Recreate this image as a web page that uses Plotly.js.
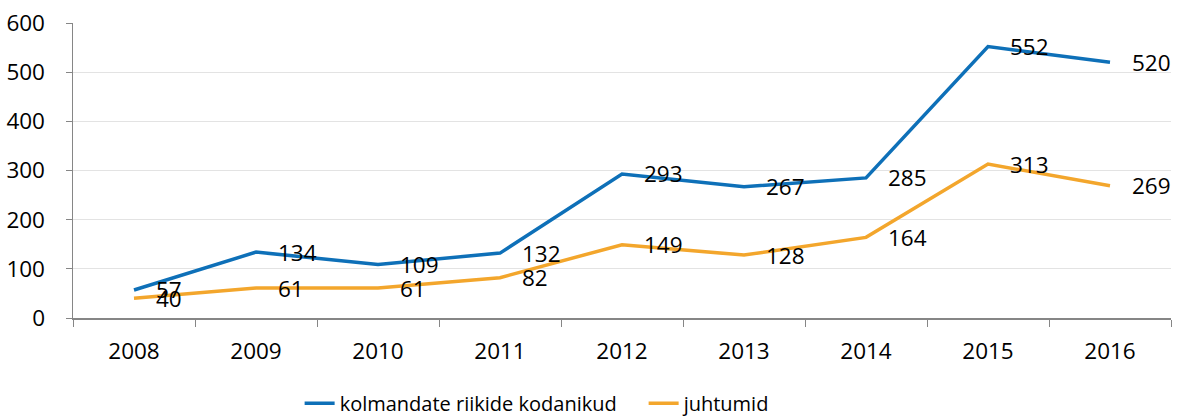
<!DOCTYPE html>
<html><head><meta charset="utf-8">
<script src="https://cdn.plot.ly/plotly-3.0.1.min.js"></script>
<style>html,body{margin:0;padding:0;background:#fff;}#chart{width:1181px;height:418px;}</style>
</head><body><div id="chart"></div>
<script>
const years = ["2008","2009","2010","2011","2012","2013","2014","2015","2016"];
const citizens = [57,134,109,132,293,267,285,552,520];
const cases = [40,61,61,82,149,128,164,313,269];
const seriesNames = ["kolmandate riikide kodanikud","juhtumid"];
const yTicks = [0,100,200,300,400,500,600];

const FONT = "Open Sans";
const blue = "#0E70B8", orange = "#F3A62C";

const traces = [
  {x: years, y: citizens, name: seriesNames[0], mode: "lines", line: {color: blue, width: 3.5}},
  {x: years, y: cases, name: seriesNames[1], mode: "lines", line: {color: orange, width: 3.5}}
];

const ann = [];
[citizens, cases].forEach(arr => arr.forEach((v, i) => {
  ann.push({x: i, y: v, text: String(v), showarrow: false, xanchor: "left", yanchor: "middle",
    xshift: 20, font: {family: FONT, size: 22.5, color: "#000"}});
}));

const layout = {
  width: 1181, height: 418,
  margin: {l: 73, r: 10, t: 23, b: 100, autoexpand: false},
  paper_bgcolor: "#fff", plot_bgcolor: "#fff",
  font: {family: FONT, size: 22.5, color: "#000"},
  showlegend: true,
  legend: {orientation: "h", x: 0.2064, xanchor: "left", yref: "container", y: 0.035, yanchor: "middle",
    font: {family: FONT, size: 20, color: "#000"}, tracegroupgap: 0, entrywidth: 299},
  xaxis: {type: "category", range: [-0.5, 8.5], tickson: "boundaries", ticks: "outside", ticklen: 7,
    tickcolor: "#868686", showline: true, linecolor: "#868686", linewidth: 1.5, showgrid: false,
    ticklabelstandoff: 12, fixedrange: true, automargin: false},
  yaxis: {range: [0, 600], tickvals: yTicks, ticks: "outside", ticklen: 6, tickcolor: "#868686",
    showline: true, linecolor: "#868686", linewidth: 1.5, gridcolor: "#E3E3E3", gridwidth: 1,
    zeroline: false, ticklabelstandoff: 16, fixedrange: true, automargin: false},
  annotations: ann
};
Plotly.newPlot("chart", traces, layout, {displayModeBar: false, staticPlot: true});
</script></body></html>
